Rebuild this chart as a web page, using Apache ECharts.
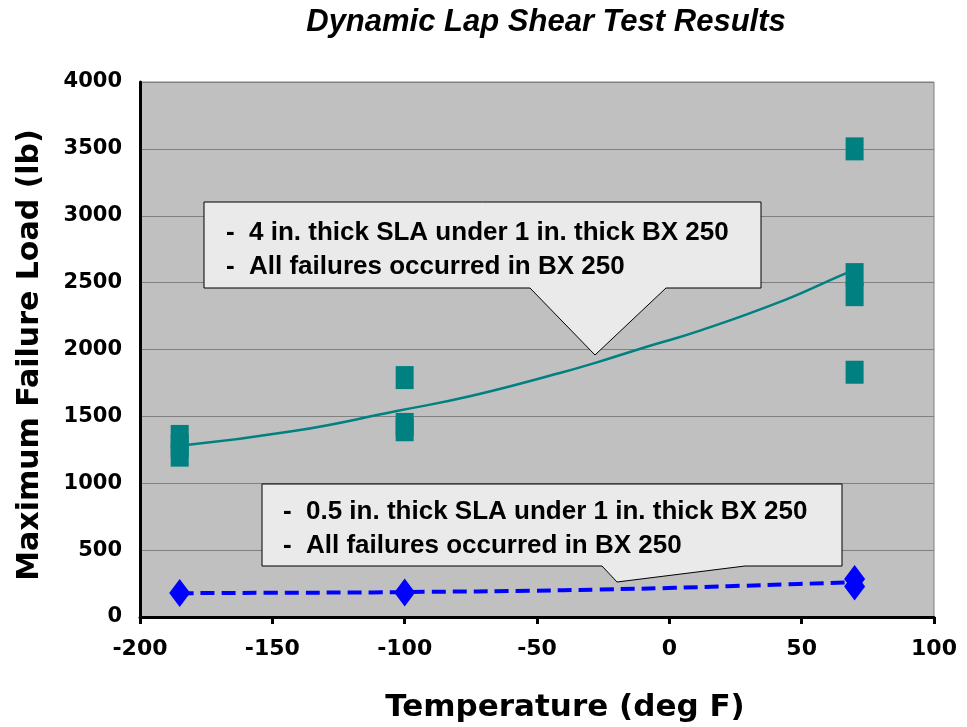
<!DOCTYPE html>
<html>
<head>
<meta charset="utf-8">
<script src="https://cdn.jsdelivr.net/npm/echarts@6/dist/echarts.min.js"></script>
<style>
html,body{margin:0;padding:0;background:#fff;}
#chart{width:967px;height:727px;}
</style>
</head>
<body>
<div id="chart"></div>
<script>
// ---- data ----
var xTicks = [-200, -150, -100, -50, 0, 50, 100];
var yTicks = [0, 500, 1000, 1500, 2000, 2500, 3000, 3500, 4000];

// 4 in. SLA under 1 in. BX 250 (squares)
var thickTemps = [-185, -185, -185, -100, -100, -100, 70, 70, 70, 70];
var thickLoads = [1210, 1280, 1350, 1790, 1440, 1400, 3500, 2560, 2410, 1830];

// 0.5 in. SLA under 1 in. BX 250 (diamonds)
var thinTemps = [-185, -100, 70, 70];
var thinLoads = [180, 184, 284, 228];

// trend line (solid teal)
var thickTrendX = [-185, -142, -103, -75, -41, -28, -7, 11, 44, 64, 70];
var thickTrendY = [1280, 1390, 1540, 1652, 1826, 1900, 2030, 2137, 2373, 2547, 2595];

// trend line (dashed blue)
var thinTrendX = [-185, -150, -112, -92, -53, -27, 2, 22, 49, 70];
var thinTrendY = [178, 181, 184, 188, 196, 205, 218, 230, 247, 260];

var titleText = 'Dynamic Lap Shear Test Results';
var xTitle = 'Temperature (deg F)';
var yTitle = 'Maximum Failure Load (lb)';
var note1 = ['4 in. thick SLA under 1 in. thick BX 250', 'All failures occurred in BX 250'];
var note2 = ['0.5 in. thick SLA under 1 in. thick BX 250', 'All failures occurred in BX 250'];

function zip(a, b) { return a.map(function (v, i) { return [v, b[i]]; }); }

var chart = echarts.init(document.getElementById('chart'));
var tickFont = 'DejaVu Sans';
var noteFont = '"Liberation Sans", Arial, sans-serif';

function calloutText(lines, x0, y1, y2) {
  var f = 'bold 26px ' + noteFont;
  return [
    {type:'text', z:101, style:{text:'-', x:x0, y:y1, font:f, fill:'#000', textVerticalAlign:'middle'}},
    {type:'text', z:101, style:{text:lines[0], x:x0 + 23, y:y1, font:f, fill:'#000', textVerticalAlign:'middle'}},
    {type:'text', z:101, style:{text:'-', x:x0, y:y2, font:f, fill:'#000', textVerticalAlign:'middle'}},
    {type:'text', z:101, style:{text:lines[1], x:x0 + 23, y:y2, font:f, fill:'#000', textVerticalAlign:'middle'}}
  ];
}

var graphics = [
  {type:'text', style:{text:titleText, x:546, y:22, textAlign:'center', textVerticalAlign:'middle',
    font:'italic bold 31px "Liberation Sans", Arial, sans-serif', fill:'#000'}},
  {type:'text', style:{text:xTitle, x:565, y:708, textAlign:'center', textVerticalAlign:'middle',
    font:'bold 31px "DejaVu Sans", sans-serif', fill:'#000'}},
  {type:'text', x:30, y:355, rotation:Math.PI/2, style:{text:yTitle, x:0, y:0, textAlign:'center', textVerticalAlign:'middle',
    font:'bold 30px "DejaVu Sans", sans-serif', fill:'#000'}},
  {type:'polygon', z:100, shape:{points:[[204,202],[761,202],[761,288],[666,288],[595,355],[530,288],[204,288]]},
    style:{fill:'#EAEAEA', stroke:'#000', lineWidth:1}},
  {type:'polygon', z:100, shape:{points:[[262,484],[842,484],[842,566],[745,566],[617,582],[602,566],[262,566]]},
    style:{fill:'#EAEAEA', stroke:'#000', lineWidth:1}}
].concat(calloutText(note1, 226, 233, 267)).concat(calloutText(note2, 283, 512, 546));

chart.setOption({
  animation:false,
  backgroundColor:'#fff',
  grid:{left:140, right:33, top:82, bottom:110, show:true, backgroundColor:'#C0C0C0', borderColor:'#808080', borderWidth:1},
  xAxis:{type:'value', min:xTicks[0], max:xTicks[xTicks.length-1], interval:50,
    axisLine:{onZero:false, lineStyle:{color:'#000', width:3}},
    axisTick:{show:true, length:7, lineStyle:{color:'#000', width:3}},
    splitLine:{show:false},
    axisLabel:{color:'#000', fontFamily:tickFont, fontWeight:'bold', fontSize:22, margin:21,
      formatter:function (v) { return String(v); }}},
  yAxis:{type:'value', min:yTicks[0], max:yTicks[yTicks.length-1], interval:500,
    axisLine:{show:true, onZero:false, lineStyle:{color:'#000', width:3}},
    axisTick:{show:false},
    splitLine:{show:true, lineStyle:{color:'#808080', width:1}},
    axisLabel:{color:'#000', fontFamily:tickFont, fontWeight:'bold', fontSize:21, margin:18,
      formatter:function (v) { return String(v); }}},
  series:[
    {type:'line', data:zip(thickTrendX, thickTrendY), smooth:true, symbol:'none',
      lineStyle:{color:'#008080', width:2.5}, z:3},
    {type:'line', data:zip(thinTrendX, thinTrendY), smooth:true, symbol:'none',
      lineStyle:{color:'#0000FF', width:4, type:[14,7]}, z:3},
    {type:'scatter', data:zip(thickTemps, thickLoads), symbol:'rect', symbolSize:[18,23],
      itemStyle:{color:'#008080', opacity:1}, z:4},
    {type:'scatter', data:zip(thinTemps, thinLoads), symbol:'diamond', symbolSize:[21,28],
      itemStyle:{color:'#0000FF', opacity:1}, z:4}
  ],
  graphic:graphics
});
</script>
</body>
</html>
